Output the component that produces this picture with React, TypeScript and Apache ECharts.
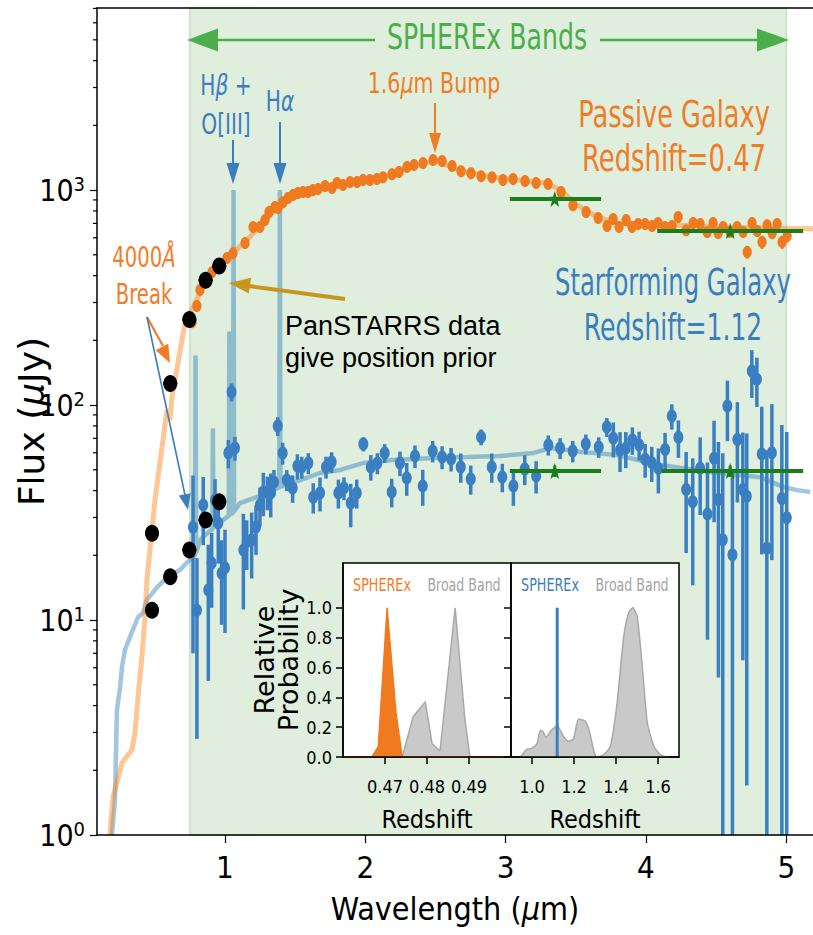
import React, { useEffect, useRef } from 'react';
import * as echarts from 'echarts';

// ---------- axis ranges ----------
const XMIN = 0.088;
const XMAX = 5.19;
const YMIN = 1;
const YMAX = 7031;

// ---------- tick values ----------
const xTicks = [1, 2, 3, 4, 5];
const yMinorTicks = [2, 3, 4, 5, 6, 7, 8, 9, 20, 30, 40, 50, 60, 70, 80, 90, 200, 300, 400, 500, 600, 700, 800, 900, 2000, 3000, 4000, 5000, 6000, 7000];
const insetYTicks = [0, 0.2, 0.4, 0.6, 0.8, 1.0];
const insetLeftTicks = [0.47, 0.48, 0.49];
const insetRightTicks = [1.0, 1.2, 1.4, 1.6];
const sphereXBand = [0.75, 5.0];

// ---------- passive galaxy (z = 0.47) SPHEREx photometry: [wavelength, flux, sigma] ----------
const passiveSpherex = [
  [0.765, 243, 12], [0.8, 289, 14], [0.822, 343, 15], [0.907, 415, 18], [1.014, 483, 20], [1.057, 509, 20],
  [1.143, 567, 22], [1.2, 673, 25], [1.249, 673, 25], [1.285, 725, 28], [1.314, 790, 30], [1.356, 834, 30],
  [1.378, 825, 30], [1.413, 879, 30], [1.449, 918, 30], [1.485, 948, 30], [1.52, 968, 30], [1.556, 979, 30],
  [1.592, 979, 30], [1.627, 1000, 30], [1.663, 1011, 30], [1.713, 1045, 30], [1.763, 1022, 30], [1.798, 1079, 30],
  [1.841, 1055, 30], [1.891, 1089, 30], [1.941, 1089, 30], [1.984, 1113, 30], [2.033, 1113, 30], [2.083, 1125, 30],
  [2.126, 1148, 30], [2.19, 1186, 30], [2.24, 1213, 30], [2.297, 1279, 35], [2.347, 1307, 35], [2.411, 1336, 35],
  [2.483, 1380, 35], [2.547, 1365, 35], [2.618, 1294, 35], [2.682, 1225, 35], [2.753, 1199, 35], [2.825, 1161, 35],
  [2.903, 1148, 35], [2.981, 1113, 35], [3.053, 1125, 35], [3.138, 1101, 35], [3.217, 1079, 35], [3.302, 1067, 35],
  [3.395, 979, 30], [3.48, 851, 30], [3.573, 790, 30], [3.659, 741, 30], [3.723, 680, 30], [3.766, 733, 30],
  [3.808, 673, 30], [3.858, 725, 30], [3.901, 673, 30], [3.944, 695, 30], [3.994, 695, 30], [4.043, 680, 30],
  [4.086, 703, 30], [4.136, 673, 30], [4.186, 680, 30], [4.229, 749, 35], [4.286, 651, 35], [4.336, 703, 35],
  [4.386, 695, 35], [4.436, 638, 35], [4.478, 703, 35], [4.514, 631, 35], [4.55, 673, 35], [4.599, 638, 35],
  [4.649, 673, 35], [4.692, 638, 35], [4.721, 515, 35], [4.756, 703, 40], [4.792, 645, 40], [4.827, 573, 40],
  [4.863, 687, 40], [4.899, 631, 40], [4.934, 695, 40], [4.97, 573, 40], [5.006, 611, 40],
];

// ---------- star-forming galaxy (z = 1.12) SPHEREx photometry: [wavelength, flux, sigma] ----------
const starSpherex = [
  [0.772, 27, 20], [0.8, 11.1, 8.3], [0.845, 34.3, 12], [0.881, 13.8, 8.6], [0.905, 18.4, 7], [0.929, 36.2, 9],
  [0.952, 28.3, 10], [0.976, 16.5, 7], [1.0, 17.5, 8.8], [1.024, 59.8, 9], [1.047, 115, 11], [1.071, 63.1, 8],
  [1.131, 21.2, 10], [1.155, 23.1, 6], [1.19, 23.6, 8], [1.221, 27.1, 7], [1.249, 34.3, 7], [1.273, 39.4, 9],
  [1.302, 39.4, 7], [1.326, 39, 9], [1.349, 43.9, 6], [1.376, 79.8, 8], [1.411, 59.8, 7], [1.44, 44.8, 5],
  [1.482, 41.1, 6], [1.516, 52, 7], [1.547, 51.5, 6], [1.594, 53.7, 6], [1.629, 37.3, 6], [1.677, 39, 7],
  [1.72, 51.5, 6], [1.76, 54.3, 6], [1.808, 39, 6], [1.848, 41.1, 5], [1.896, 35, 8], [1.939, 39, 6],
  [1.986, 65.9, 5], [2.039, 51.5, 7], [2.086, 53.7, 6], [2.138, 59.8, 6], [2.188, 39.4, 6], [2.247, 53.7, 7],
  [2.295, 45.8, 8], [2.354, 57.9, 7], [2.409, 42, 8], [2.48, 61.1, 7], [2.547, 57.3, 7], [2.611, 56.1, 7],
  [2.68, 51.5, 8], [2.751, 45.3, 7], [2.825, 71, 6], [2.901, 51.5, 8], [2.976, 46.3, 7], [3.055, 42, 8],
  [3.136, 50.4, 8], [3.217, 46.8, 8], [3.304, 65.2, 7], [3.388, 63.1, 7], [3.478, 61.1, 7], [3.571, 65.9, 7],
  [3.663, 63.8, 7], [3.721, 79, 8], [3.767, 70, 13], [3.815, 61.8, 13], [3.856, 62.9, 12], [3.903, 68.7, 10],
  [3.951, 65.2, 10], [3.994, 55.9, 10], [4.041, 53.9, 10], [4.088, 50.8, 12], [4.136, 62.2, 12], [4.184, 88.9, 12],
  [4.231, 70.8, 14], [4.286, 40.5, 20], [4.333, 35.5, 21], [4.386, 50.8, 20], [4.438, 31.1, 23], [4.485, 56.5, 28],
  [4.516, 36.4, 31], [4.547, 23.6, 36], [4.58, 98.9, 31], [4.616, 20.1, 29], [4.651, 69.2, 34], [4.69, 40.5, 34],
  [4.718, 37.7, 36], [4.754, 144, 36], [4.79, 132, 34], [4.825, 59.2, 39], [4.861, 21.6, 40], [4.897, 60, 41],
  [4.968, 36.8, 44], [5.003, 29.9, 45],
];

// ---------- model spectra: [wavelength, flux] ----------
const passiveModel = [
  [0.18, 1], [0.202, 1.5], [0.266, 2.16], [0.337, 2.49], [0.359, 2.98], [0.38, 4.38], [0.408, 6.73], [0.43, 10.3],
  [0.444, 15.4], [0.501, 36.2], [0.558, 68.7], [0.587, 94.8], [0.608, 85], [0.622, 109], [0.644, 131], [0.694, 201],
  [0.715, 241], [0.751, 268], [0.85, 360], [0.95, 450], [1.05, 505], [1.15, 580], [1.25, 680], [1.35, 800],
  [1.5, 950], [1.7, 1030], [1.9, 1080], [2.1, 1130], [2.3, 1270], [2.5, 1370], [2.7, 1220], [2.9, 1150],
  [3.1, 1110], [3.3, 1075], [3.4, 990], [3.5, 860], [3.65, 750], [3.8, 700], [4.0, 690], [4.3, 685],
  [4.6, 670], [4.9, 665], [5.2, 660],
];
const starModel = [
  [0.195, 1], [0.216, 1.45], [0.23, 3.81], [0.252, 4.83], [0.266, 6.05], [0.287, 7.25], [0.323, 8.34], [0.38, 10.3],
  [0.416, 10.8], [0.444, 12.4], [0.515, 14.2], [0.587, 15.8], [0.679, 17.1], [0.765, 19.6], [0.786, 20],
  [0.79, 170], [0.794, 20.5], [0.822, 23.6], [0.91, 26.5], [0.914, 78], [0.918, 27], [1.014, 30.1], [1.027, 30.5],
  [1.031, 220], [1.035, 31], [1.057, 31.5], [1.061, 1000], [1.065, 32], [1.107, 35], [1.228, 37.3], [1.387, 41.5],
  [1.391, 1000], [1.395, 41.6], [1.535, 44.8], [1.677, 48.3], [1.82, 49.9], [1.984, 53.7], [2.197, 55.5],
  [2.483, 56.7], [2.725, 57.3], [2.96, 57.9], [3.195, 59.8], [3.316, 63.1], [3.552, 60.4], [3.794, 58.5],
  [4.1, 52.6], [4.457, 48.8], [4.813, 46.2], [4.977, 41.6], [5.077, 40.2], [5.17, 39.4],
];

// ---------- PanSTARRS photometry: [wavelength, flux, half band width] ----------
const passivePanstarrs = [[0.48, 25.3, 0.05], [0.61, 126, 0.05], [0.746, 250, 0.05], [0.862, 381, 0.05], [0.959, 443, 0.05]];
const starPanstarrs = [[0.48, 11.1, 0.05], [0.61, 15.9, 0.05], [0.746, 21.2, 0.05], [0.862, 29.2, 0.05], [0.959, 35.5, 0.05]];

// ---------- broad-band photometry: [wavelength, flux, band start, band end, flux error] ----------
const passiveBroad = [[3.35, 910, 3.03, 3.68, 0], [4.6, 645, 4.08, 5.12, 0]];
const starBroad = [[3.35, 49.3, 3.03, 3.68, 3], [4.6, 49.3, 4.11, 5.12, 3]];

// ---------- redshift probability distributions: [redshift, relative probability] ----------
const pzPassiveSpherex = [[0.46, 0], [0.4669, 0], [0.4684, 0.07], [0.4705, 1.0], [0.4726, 0.3], [0.4741, 0], [0.5, 0]];
const pzPassiveBroad = [[0.4741, 0], [0.4767, 0.27], [0.4796, 0.37], [0.4812, 0.09], [0.4831, 0.04], [0.4867, 1.0], [0.489, 0.26], [0.4902, 0]];
const pzStarBroad = [
  [0.946, 0], [0.973, 0.05], [1.0, 0.06], [1.024, 0.09], [1.04, 0.18], [1.053, 0.17], [1.066, 0.13], [1.093, 0.18],
  [1.12, 0.21], [1.149, 0.14], [1.173, 0.105], [1.197, 0.12], [1.222, 0.255], [1.253, 0.24], [1.274, 0.17],
  [1.296, 0.03], [1.309, 0], [1.341, 0.015], [1.373, 0.07], [1.405, 0.36], [1.437, 0.81], [1.461, 0.97], [1.48, 1.0],
  [1.501, 0.94], [1.525, 0.61], [1.549, 0.23], [1.581, 0.07], [1.613, 0.015], [1.645, 0],
];
const pzStarSpherex = [[1.12, 0], [1.12, 1.0]];

// ---------- styles ----------
const ORANGE = '#f07a1f';
const ORANGE_TXT = '#f07d26';
const BLUE = '#3a7fc1';
const BLUE_TXT = '#3b7dbd';
const GREEN_ARROW = '#4cae4a';
const GREEN_BB = '#1b7e1b';
const GOLD = '#c8951d';
const FONT = '"DejaVu Sans", sans-serif';
const NARROW = '"Liberation Sans Narrow", "DejaVu Sans Condensed", sans-serif';
const STAR = 'M10,0 L12.35,6.76 L19.51,6.91 L13.8,11.24 L15.88,18.09 L10,14 L4.12,18.09 L6.2,11.24 L0.49,6.91 L7.65,6.76 Z';

function errPoints(color: string, rx: number, ry: number, lw: number) {
  return (params: any, api: any) => {
    const x = api.value(0);
    const f = api.value(1);
    const s = api.value(2);
    const p = api.coord([x, f]);
    const lo = api.coord([x, Math.max(f - s, 0.3)]);
    const hi = api.coord([x, f + s]);
    return {
      type: 'group',
      children: [
        { type: 'line', shape: { x1: p[0], y1: lo[1], x2: p[0], y2: hi[1] }, style: { stroke: color, lineWidth: lw } },
        { type: 'ellipse', shape: { cx: p[0], cy: p[1], rx, ry }, style: { fill: color } },
      ],
    };
  };
}

function panstarrsPoints(params: any, api: any) {
  const x = api.value(0);
  const f = api.value(1);
  const w = api.value(2);
  const p = api.coord([x, f]);
  const l = api.coord([x - w, f]);
  const r = api.coord([x + w, f]);
  return {
    type: 'group',
    children: [
      { type: 'line', shape: { x1: l[0], y1: p[1], x2: r[0], y2: p[1] }, style: { stroke: '#000', lineWidth: 2.5 } },
      { type: 'ellipse', shape: { cx: p[0], cy: p[1], rx: 7, ry: 8.5 }, style: { fill: '#000' } },
    ],
  };
}

function broadPoints(params: any, api: any) {
  const x = api.value(0);
  const f = api.value(1);
  const a = api.value(2);
  const b = api.value(3);
  const e = api.value(4);
  const p = api.coord([x, f]);
  const l = api.coord([a, f]);
  const r = api.coord([b, f]);
  const children: any[] = [
    { type: 'line', shape: { x1: l[0], y1: p[1], x2: r[0], y2: p[1] }, style: { stroke: GREEN_BB, lineWidth: 4 } },
  ];
  if (e > 0) {
    const lo = api.coord([x, f - e]);
    const hi = api.coord([x, f + e]);
    children.push({ type: 'line', shape: { x1: p[0], y1: lo[1], x2: p[0], y2: hi[1] }, style: { stroke: GREEN_BB, lineWidth: 3 } });
  }
  children.push({
    type: 'path',
    shape: { pathData: STAR, x: p[0] - 7, y: p[1] - 8, width: 14, height: 16, layout: 'cover' },
    style: { fill: GREEN_BB },
  });
  return { type: 'group', children };
}

function minorTickItem(params: any, api: any) {
  const p = api.coord([api.value(0), api.value(1)]);
  return { type: 'line', shape: { x1: p[0] - 4, y1: p[1], x2: p[0], y2: p[1] }, style: { stroke: '#000', lineWidth: 1.2 } };
}

function T(x: number, y: number, text: string, size: number, fill: string, sx: number, align = 'center', family = FONT, rich?: any) {
  return {
    type: 'text',
    x,
    y,
    scaleX: sx,
    z: 100,
    style: { text, fill, fontSize: size, fontFamily: family, align, verticalAlign: 'middle', rich },
  };
}
function L(x1: number, y1: number, x2: number, y2: number, stroke: string, lw: number) {
  return { type: 'line', z: 100, shape: { x1, y1, x2, y2 }, style: { stroke, lineWidth: lw } };
}
function P(points: number[][], fill: string) {
  return { type: 'polygon', z: 100, shape: { points }, style: { fill } };
}
const ital = (size: number, fill: string) => ({ i: { fontStyle: 'italic', fontSize: size, fontFamily: FONT, fill } });

export default function App() {
  const ref = useRef<HTMLDivElement>(null);
  useEffect(() => {
    if (!ref.current) return;
    const chart = echarts.init(ref.current, null, { renderer: 'svg' });
    const axisBlack = { lineStyle: { color: '#000', width: 1.5 } };
    const gridBase = { containLabel: false, outerBoundsMode: 'none' };
    const option: any = {
      animation: false,
      backgroundColor: '#fff',
      grid: [
        { ...gridBase, left: 97, top: 8, width: 716, height: 827 },
        { ...gridBase, left: 343, top: 563, width: 168, height: 194, show: true, backgroundColor: '#fff', borderColor: '#000', borderWidth: 1.5, z: 6 },
        { ...gridBase, left: 511, top: 563, width: 168, height: 194, show: true, backgroundColor: '#fff', borderColor: '#000', borderWidth: 1.5, z: 6 },
      ],
      xAxis: [
        {
          gridIndex: 0, type: 'value', min: XMIN, max: XMAX, z: 5,
          axisLine: { show: true, ...axisBlack },
          axisTick: { show: true, length: 8, lineStyle: { color: '#000', width: 1.2 }, customValues: xTicks },
          axisLabel: { customValues: xTicks, color: '#000', fontSize: 31, fontFamily: NARROW, margin: 16 },
          splitLine: { show: false },
          name: 'Wavelength ({i|μ}m)', nameLocation: 'middle', nameGap: 58,
          nameTextStyle: { color: '#000', fontSize: 32, fontFamily: NARROW, rich: { i: { fontStyle: 'italic', fontSize: 32, fontFamily: NARROW, color: '#000' } } },
        },
        {
          gridIndex: 0, type: 'value', position: 'top', min: XMIN, max: XMAX, z: 5,
          axisLine: { show: true, ...axisBlack }, axisTick: { show: false }, axisLabel: { show: false }, splitLine: { show: false },
        },
        {
          gridIndex: 1, type: 'value', min: 0.46, max: 0.5, z: 8,
          axisLine: { show: true, ...axisBlack },
          axisTick: { show: true, length: 7, lineStyle: { color: '#000', width: 1.5 }, customValues: insetLeftTicks },
          axisLabel: { customValues: insetLeftTicks, formatter: (v: number) => v.toFixed(2), color: '#000', fontSize: 18, fontFamily: NARROW, margin: 20 },
          splitLine: { show: false },
          name: 'Redshift', nameLocation: 'middle', nameGap: 50,
          nameTextStyle: { color: '#000', fontSize: 25, fontFamily: NARROW },
        },
        {
          gridIndex: 2, type: 'value', min: 0.9, max: 1.7, z: 8,
          axisLine: { show: true, ...axisBlack },
          axisTick: { show: true, length: 7, lineStyle: { color: '#000', width: 1.5 }, customValues: insetRightTicks },
          axisLabel: { customValues: insetRightTicks, formatter: (v: number) => v.toFixed(1), color: '#000', fontSize: 18, fontFamily: NARROW, margin: 20 },
          splitLine: { show: false },
          name: 'Redshift', nameLocation: 'middle', nameGap: 50,
          nameTextStyle: { color: '#000', fontSize: 25, fontFamily: NARROW },
        },
      ],
      yAxis: [
        {
          gridIndex: 0, type: 'log', logBase: 10, min: YMIN, max: YMAX, z: 5,
          axisLine: { show: true, ...axisBlack },
          axisTick: { show: true, length: 7, lineStyle: { color: '#000', width: 1.2 } },
          axisLabel: {
            showMaxLabel: false,
            margin: 12,
            formatter: (v: number) => {
              const e = Math.log10(v);
              if (Math.abs(e - Math.round(e)) > 1e-6) return '';
              return '{b|10}{s|' + Math.round(e) + '}';
            },
            rich: {
              b: { fontSize: 30, fontFamily: NARROW, color: '#000', lineHeight: 32 },
              s: { fontSize: 20, fontFamily: NARROW, color: '#000', verticalAlign: 'top', lineHeight: 20 },
            },
          },
          splitLine: { show: false },
          minorTick: { show: false },
          name: 'Flux ({i|μ}Jy)', nameLocation: 'middle', nameGap: 48, nameMoveOverlap: false,
          nameTextStyle: { color: '#000', fontSize: 36, fontFamily: FONT, rich: { i: { fontStyle: 'italic', fontSize: 36, fontFamily: FONT, color: '#000' } } },
        },
        {
          gridIndex: 1, type: 'value', min: 0, max: 1.3, z: 8,
          axisLine: { show: true, ...axisBlack },
          axisTick: { show: true, length: 7, lineStyle: { color: '#000', width: 1.5 }, customValues: insetYTicks },
          axisLabel: { customValues: insetYTicks, formatter: (v: number) => v.toFixed(1), color: '#000', fontSize: 18, fontFamily: NARROW, margin: 11 },
          splitLine: { show: false },
          name: 'Relative\nProbability', nameLocation: 'middle', nameGap: 40,
          nameTextStyle: { color: '#000', fontSize: 27, fontFamily: FONT, lineHeight: 24 },
        },
        {
          gridIndex: 2, type: 'value', min: 0, max: 1.3, z: 8,
          axisLine: { show: true, ...axisBlack },
          axisTick: { show: true, length: 7, lineStyle: { color: '#000', width: 1.5 }, customValues: insetYTicks },
          axisLabel: { show: false },
          splitLine: { show: false },
        },
      ],
      series: [
        {
          type: 'line', xAxisIndex: 0, yAxisIndex: 0, data: [], z: 1, silent: true,
          markArea: {
            silent: true,
            itemStyle: { color: '#dfeedd', borderColor: '#c4dfc1', borderWidth: 1.5 },
            data: [[{ xAxis: sphereXBand[0] }, { xAxis: sphereXBand[1] }]],
          },
        },
        {
          type: 'line', xAxisIndex: 0, yAxisIndex: 0, data: starModel, showSymbol: false, z: 2, clip: true,
          lineStyle: { color: 'rgba(31,119,180,0.42)', width: 4.5 },
        },
        {
          type: 'line', xAxisIndex: 0, yAxisIndex: 0, data: passiveModel, showSymbol: false, z: 2, clip: true,
          lineStyle: { color: 'rgba(255,127,14,0.45)', width: 5 },
        },
        {
          type: 'custom', xAxisIndex: 0, yAxisIndex: 0, data: starSpherex, z: 3, clip: true,
          encode: { x: 0, y: 1 }, renderItem: errPoints(BLUE, 5, 6.5, 3.5),
        },
        {
          type: 'custom', xAxisIndex: 0, yAxisIndex: 0, data: passiveSpherex, z: 3, clip: true,
          encode: { x: 0, y: 1 }, renderItem: errPoints(ORANGE, 4.6, 6, 3),
        },
        { type: 'custom', xAxisIndex: 0, yAxisIndex: 0, data: passiveBroad, z: 4, encode: { x: 0, y: 1 }, renderItem: broadPoints },
        { type: 'custom', xAxisIndex: 0, yAxisIndex: 0, data: starBroad, z: 4, encode: { x: 0, y: 1 }, renderItem: broadPoints },
        { type: 'custom', xAxisIndex: 0, yAxisIndex: 0, data: passivePanstarrs, z: 5, encode: { x: 0, y: 1 }, renderItem: panstarrsPoints },
        { type: 'custom', xAxisIndex: 0, yAxisIndex: 0, data: starPanstarrs, z: 5, encode: { x: 0, y: 1 }, renderItem: panstarrsPoints },
        {
          type: 'custom', xAxisIndex: 0, yAxisIndex: 0, z: 5, silent: true, clip: false,
          data: yMinorTicks.map((v) => [XMIN, v]), encode: { x: 0, y: 1 }, renderItem: minorTickItem,
        },
        {
          type: 'line', xAxisIndex: 2, yAxisIndex: 1, data: pzPassiveBroad, showSymbol: false, z: 7,
          lineStyle: { color: '#a9a9a9', width: 1.5 }, areaStyle: { color: '#c9c9c9', opacity: 1 },
        },
        {
          type: 'line', xAxisIndex: 2, yAxisIndex: 1, data: pzPassiveSpherex, showSymbol: false, z: 7,
          lineStyle: { color: ORANGE, width: 1.5 }, areaStyle: { color: ORANGE, opacity: 1 },
        },
        {
          type: 'line', xAxisIndex: 3, yAxisIndex: 2, data: pzStarBroad, showSymbol: false, z: 7, smooth: 0.2,
          lineStyle: { color: '#a9a9a9', width: 1.5 }, areaStyle: { color: '#c9c9c9', opacity: 1 },
        },
        {
          type: 'line', xAxisIndex: 3, yAxisIndex: 2, data: pzStarSpherex, showSymbol: false, z: 7,
          lineStyle: { color: BLUE, width: 3 },
        },
      ],
      graphic: [
        // SPHEREx band arrow
        L(218, 40, 375, 40, GREEN_ARROW, 2.5),
        L(600, 40, 757, 40, GREEN_ARROW, 2.5),
        P([[187, 40], [218, 28.5], [218, 51.5]], GREEN_ARROW),
        P([[789, 40], [757, 28.5], [757, 51.5]], GREEN_ARROW),
        T(487, 37, 'SPHEREx Bands', 35, GREEN_ARROW, 0.72),
        // emission lines
        T(226, 85, 'H{i|β} +', 28, BLUE_TXT, 0.72, 'center', FONT, ital(28, BLUE_TXT)),
        T(226, 124, 'O[III]', 28, BLUE_TXT, 0.72),
        T(280, 101, 'H{i|α}', 28, BLUE_TXT, 0.72, 'center', FONT, ital(28, BLUE_TXT)),
        L(233, 140, 233, 164, BLUE_TXT, 2),
        P([[226.5, 163], [239.5, 163], [233, 184]], BLUE_TXT),
        L(280, 122, 280, 164, BLUE_TXT, 2),
        P([[273.5, 163], [286.5, 163], [280, 184]], BLUE_TXT),
        // 1.6 micron bump
        T(434, 83, '1.6{i|μ}m Bump', 29, ORANGE_TXT, 0.71, 'center', FONT, ital(29, ORANGE_TXT)),
        L(435, 103, 435, 134, ORANGE_TXT, 2),
        P([[429, 133], [441, 133], [435, 153]], ORANGE_TXT),
        // galaxy labels
        T(674, 114, 'Passive Galaxy', 38, ORANGE_TXT, 0.675),
        T(674, 158, 'Redshift=0.47', 38, ORANGE_TXT, 0.68),
        T(673, 282, 'Starforming Galaxy', 38, BLUE_TXT, 0.64),
        T(673, 327, 'Redshift=1.12', 38, BLUE_TXT, 0.66),
        // 4000 A break
        T(144, 258, '4000{i|Å}', 28, ORANGE_TXT, 0.7, 'center', FONT, ital(28, ORANGE_TXT)),
        T(144, 295, 'Break', 28, ORANGE_TXT, 0.7),
        L(147, 317, 163, 346, ORANGE_TXT, 2.2),
        P([[170, 363], [168.2, 343.8], [155.6, 350.2]], ORANGE_TXT),
        L(147, 317, 185, 495, BLUE_TXT, 1.6),
        P([[188, 510], [190.6, 493.2], [178.8, 495.6]], BLUE_TXT),
        // PanSTARRS note
        L(345, 299, 249, 286, GOLD, 4),
        P([[229, 283], [251.2, 277.8], [248.8, 293.6]], GOLD),
        T(285, 326, 'PanSTARRS data', 27, '#000', 1, 'left', '"Liberation Sans", Arial, sans-serif'),
        T(285, 358, 'give position prior', 27, '#000', 1, 'left', '"Liberation Sans", Arial, sans-serif'),
        // inset legends
        T(382, 585, 'SPHEREx', 18, ORANGE_TXT, 0.71),
        T(464, 585, 'Broad Band', 18, '#a3a3a3', 0.7),
        T(550, 585, 'SPHEREx', 18, BLUE_TXT, 0.71),
        T(632, 585, 'Broad Band', 18, '#a3a3a3', 0.7),
      ],
    };
    chart.setOption(option);
    return () => chart.dispose();
  }, []);
  return <div ref={ref} style={{ position: 'fixed', left: 0, top: 0, width: 813, height: 935 }} />;
}
